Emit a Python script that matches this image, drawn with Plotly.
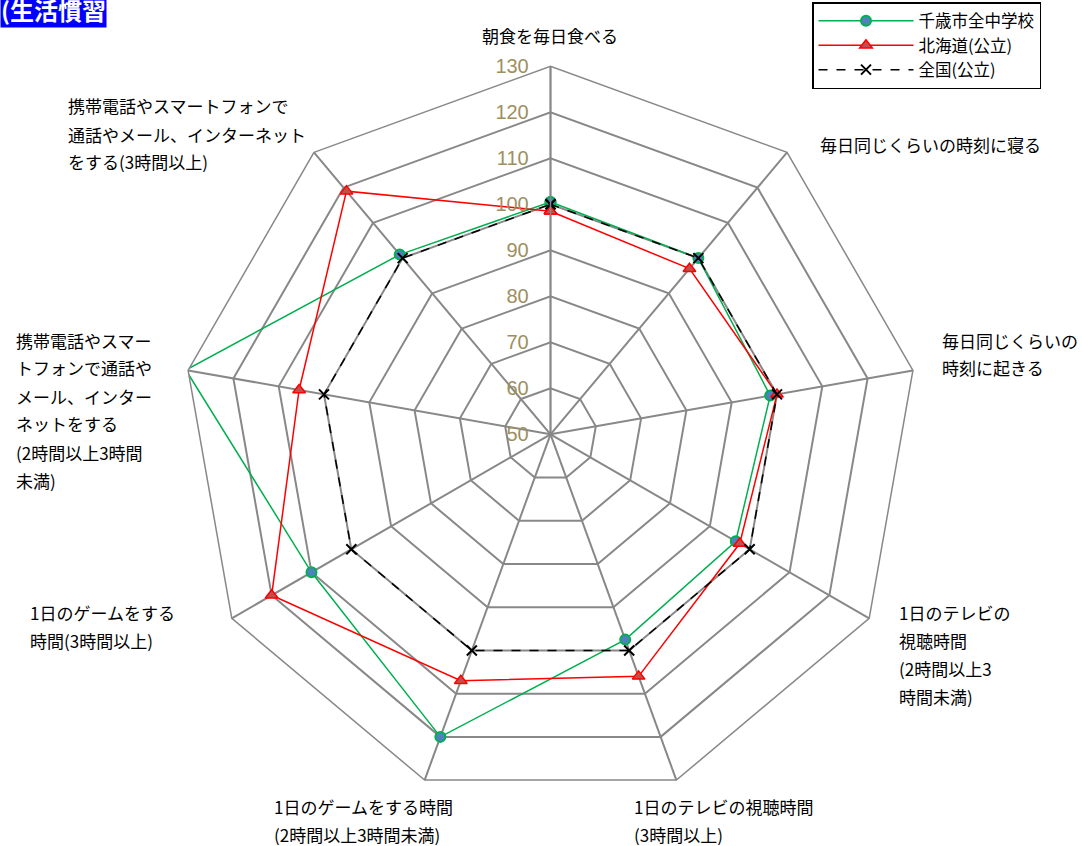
import plotly.graph_objects as go

# ---- data ----
category_lines = [
    ["朝食を毎日食べる"],
    ["毎日同じくらいの時刻に寝る"],
    ["毎日同じくらいの", "時刻に起きる"],
    ["1日のテレビの", "視聴時間", "(2時間以上3", "時間未満)"],
    ["1日のテレビの視聴時間", "(3時間以上)"],
    ["1日のゲームをする時間", "(2時間以上3時間未満)"],
    ["1日のゲームをする", "時間(3時間以上)"],
    ["携帯電話やスマー", "トフォンで通話や", "メール、インター", "ネットをする", "(2時間以上3時間", "未満)"],
    ["携帯電話やスマートフォンで", "通話やメール、インターネット", "をする(3時間以上)"],
]
categories = ["".join(l) for l in category_lines]

series_names = ["千歳市全中学校", "北海道(公立)", "全国(公立)"]
chitose = [100.5, 100, 98.5, 96.5, 97.5, 120, 110, 130.5, 101]
hokkaido = [98.5, 97, 100, 97.5, 106, 107, 120, 105.5, 119]
zenkoku = [100, 100, 100, 100, 100, 100, 100, 100, 100]
radial_ticks = [50, 60, 70, 80, 90, 100, 110, 120, 130]

title_text = "(生活慣習"

# ---- figure ----
FONT = "Noto Sans CJK JP"
W, H = 1082, 846
fig = go.Figure()

def closed(vals):
    return list(vals) + [vals[0]]

theta = closed(categories)

fig.add_trace(go.Scatterpolar(
    r=closed(chitose), theta=theta, name=series_names[0], mode="lines+markers",
    line=dict(color="#00B050", width=1.5),
    marker=dict(symbol="circle", size=10, color="#4F81BD", line=dict(color="#00B050", width=2)),
))
fig.add_trace(go.Scatterpolar(
    r=closed(hokkaido), theta=theta, name=series_names[1], mode="lines+markers",
    line=dict(color="#FF0000", width=1.5),
    marker=dict(symbol="triangle-up", size=11, color="#C0504D", line=dict(color="#FF0000", width=1.5)),
))
fig.add_trace(go.Scatterpolar(
    r=closed(zenkoku), theta=theta, name=series_names[2], mode="lines+markers",
    line=dict(color="#000000", width=1.5, dash="dash"),
    marker=dict(symbol="x-thin", size=10, color="#000000", line=dict(color="#000000", width=2)),
))

GRID = "#888888"
cx, cy, half = 550.5, 434.3, 368
fig.update_layout(
    width=W, height=H,
    margin=dict(l=0, r=0, t=0, b=0),
    paper_bgcolor="white", plot_bgcolor="white",
    font=dict(family=FONT, size=17, color="#000000"),
    polar=dict(
        domain=dict(x=[(cx - half) / W, (cx + half) / W],
                    y=[1 - (cy + half) / H, 1 - (cy - half) / H]),
        bgcolor="white",
        gridshape="linear",
        radialaxis=dict(
            range=[50, 130], tickvals=radial_ticks, angle=90, side="counterclockwise",
            showline=True, linecolor=GRID, linewidth=1.5,
            showgrid=True, gridcolor=GRID, gridwidth=1.5,
            ticks="outside", ticklen=14, tickcolor="rgba(0,0,0,0)",
            tickfont=dict(family="Liberation Sans", size=20, color="#9C9060"),
            tickangle=90,
        ),
        angularaxis=dict(
            rotation=90, direction="clockwise",
            showline=True, linecolor=GRID, linewidth=1.5,
            showgrid=True, gridcolor=GRID, gridwidth=1.5,
            showticklabels=False, ticks="",
        ),
    ),
    legend=dict(
        x=812 / W, y=1 - 2 / H, xanchor="left", yanchor="top",
        bordercolor="#000000", borderwidth=1.5, bgcolor="white",
        font=dict(family=FONT, size=16.5), itemwidth=95,
        tracegroupgap=0, entrywidth=292, entrywidthmode="pixels",
    ),
    showlegend=True,
)

# category labels as annotations (x, y of first line in px, anchor)
label_pos = [
    (550, 36, "center"),
    (818, 144, "left"),
    (940, 340, "left"),
    (897, 612, "left"),
    (632, 806, "left"),
    (272, 806, "left"),
    (28, 612, "left"),
    (14, 340, "left"),
    (66, 106, "left"),
]
LINE_H = 28
annotations = []
for lines, (px, py, anchor) in zip(category_lines, label_pos):
    for i, txt in enumerate(lines):
        annotations.append(dict(
            text=txt, xref="paper", yref="paper",
            x=px / W, y=1 - (py + i * LINE_H) / H,
            xanchor=anchor, yanchor="middle", showarrow=False,
            font=dict(family=FONT, size=17, color="#000000"),
        ))

annotations.append(dict(
    text="<b>" + title_text + "</b>", xref="paper", yref="paper",
    x=0, y=1, xanchor="left", yanchor="top", yshift=9, showarrow=False,
    bgcolor="#0000FF", borderpad=0,
    font=dict(family=FONT, size=24, color="#FFFFFF"),
))
fig.update_layout(annotations=annotations)

fig.write_html(
    "out.html",
    config={"displayModeBar": False},
    post_script="document.body.style.margin='0px';document.body.style.overflow='hidden';",
)
